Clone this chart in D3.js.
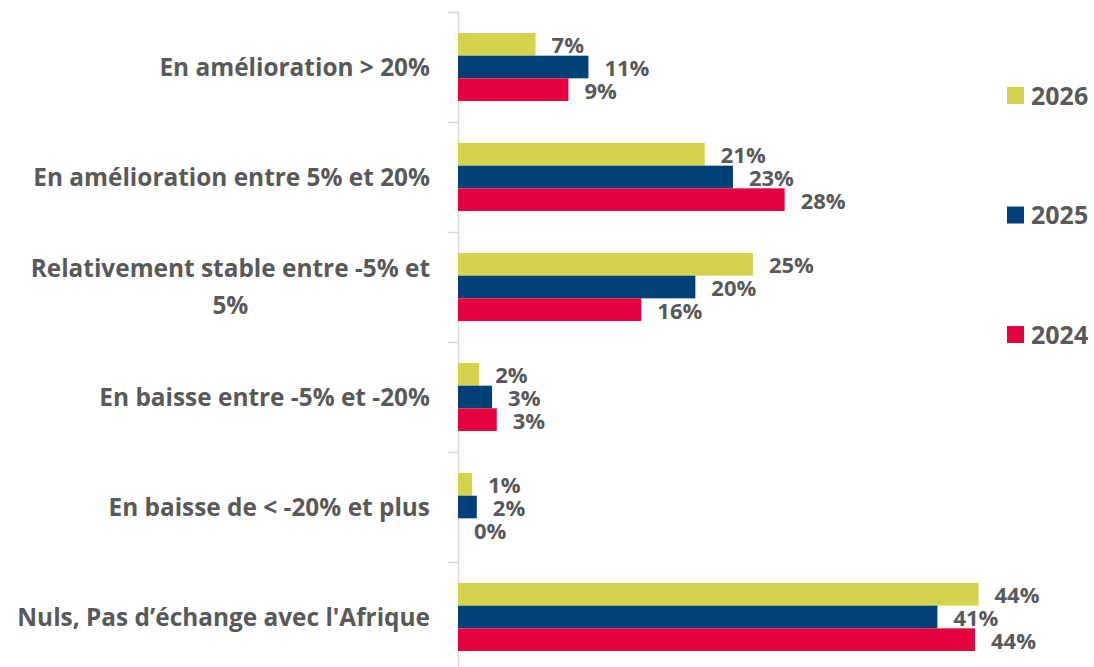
<!DOCTYPE html>
<html>
<head>
<meta charset="utf-8">
<script src="https://cdn.jsdelivr.net/npm/d3@7"></script>
<style>
  html, body { margin: 0; padding: 0; background: #fff; }
  svg { display: block; }
  text { font-family: "Open Sans", sans-serif; font-weight: 700; fill: #595959; }
</style>
</head>
<body>
<svg id="chart" width="1094" height="667"></svg>
<script>
const categories = [
  ["En amélioration > 20%"],
  ["En amélioration entre 5% et 20%"],
  ["Relativement stable entre -5% et", "5%"],
  ["En baisse entre -5% et -20%"],
  ["En baisse de < -20% et plus"],
  ["Nuls, Pas d’échange avec l'Afrique"]
];
const seriesNames = ["2026", "2025", "2024"];
const values2026 = [6.6, 21.0, 25.1, 1.8, 1.2, 44.3];
const values2025 = [11.1, 23.4, 20.2, 2.9, 1.6, 40.8];
const values2024 = [9.4, 27.8, 15.6, 3.3, 0.0, 44.0];
const seriesColors = ["#d4d34e", "#004078", "#e5003f"];

const seriesValues = [values2026, values2025, values2024];
const svg = d3.select("#chart");

const x0 = 458;
const x = d3.scaleLinear().domain([0, 50]).range([x0, x0 + 587.5]);
const y = d3.scaleBand().domain(d3.range(categories.length)).range([12, 672])
  .paddingInner(0.382).paddingOuter(0.191);
const ySub = d3.scaleBand().domain(seriesNames).range([0, y.bandwidth()]);

// axis
const axisG = svg.append("g").attr("transform", `translate(${x0},0)`);
const yAxis = d3.axisLeft(d3.scaleLinear().domain([0, 6]).range([12, 672]))
  .ticks(6).tickSize(10).tickFormat("");
axisG.call(yAxis);
axisG.select(".domain").attr("stroke", "#d9d9d9").attr("stroke-width", 1.5);
axisG.selectAll(".tick line").attr("stroke", "#d9d9d9").attr("stroke-width", 1.5);

// bars
const groups = svg.append("g").selectAll("g.cat")
  .data(categories.map((c, i) => i))
  .join("g")
  .attr("transform", i => `translate(0,${y(i)})`);

seriesNames.forEach((s, si) => {
  groups.append("rect")
    .attr("x", x(0))
    .attr("y", ySub(s))
    .attr("height", ySub.bandwidth())
    .attr("width", i => x(seriesValues[si][i]) - x(0))
    .attr("fill", seriesColors[si]);
  groups.append("text")
    .attr("x", i => x(seriesValues[si][i]) + 16)
    .attr("y", ySub(s) + ySub.bandwidth() / 2 + 1)
    .attr("dy", "0.36em")
    .style("font-size", "22px")
    .text(i => Math.round(seriesValues[si][i]) + "%");
});

// category labels (multi-line labels are centred on each other, block right-aligned)
const catLabels = svg.append("g").selectAll("text")
  .data(categories)
  .join("text")
  .style("font-size", "24.4px")
  .attr("transform", (c, i) => `translate(430,${y(i) + y.bandwidth() / 2})`);
catLabels.each(function(lines) {
  const t = d3.select(this);
  const lh = 37;
  const spans = lines.map((ln, k) => t.append("tspan")
      .attr("y", (k - (lines.length - 1) / 2) * lh)
      .attr("dy", "0.36em")
      .text(ln));
  const widths = spans.map(sp => sp.node().getComputedTextLength());
  const maxW = d3.max(widths);
  if (lines.length === 1) {
    t.attr("text-anchor", "end");
    spans[0].attr("x", 0);
  } else {
    t.attr("text-anchor", "middle");
    spans.forEach(sp => sp.attr("x", -maxW / 2));
  }
});

// legend
const legend = svg.append("g").selectAll("g")
  .data(seriesNames)
  .join("g")
  .attr("transform", (d, i) => `translate(1007,${87 + i * 119.5})`);
legend.append("rect").attr("width", 17).attr("height", 17)
  .attr("fill", (d, i) => seriesColors[i]);
legend.append("text").attr("x", 24).attr("y", 8.5).attr("dy", "0.36em")
  .style("font-size", "25px").text(d => d);
</script>
</body>
</html>
